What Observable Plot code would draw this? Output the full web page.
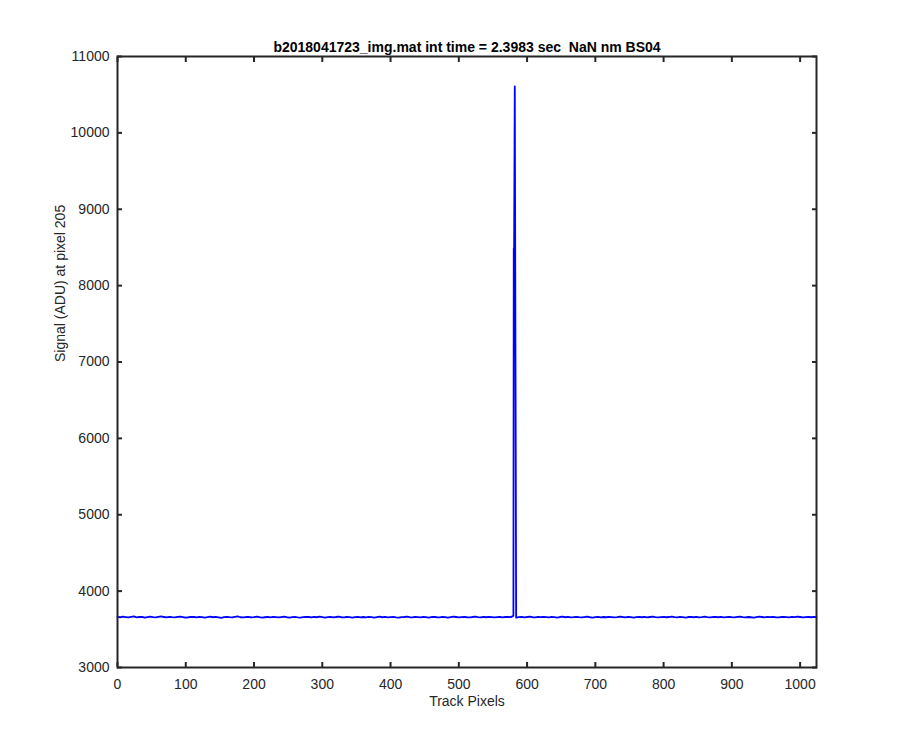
<!DOCTYPE html>
<html><head><meta charset="utf-8">
<script src="https://cdn.jsdelivr.net/npm/d3@7"></script>
<script src="https://cdn.jsdelivr.net/npm/@observablehq/plot@0.6"></script>
<style>body{margin:0;background:#fff}</style>
</head><body><div id="chart"></div>
<script>
const titleText = "b2018041723_img.mat int time = 2.3983 sec  NaN nm BS04";
const xLabel = "Track Pixels";
const yLabel = "Signal (ADU) at pixel 205";
const xTicks = [0,100,200,300,400,500,600,700,800,900,1000];
const yTicks = [3000,4000,5000,6000,7000,8000,9000,10000,11000];
// baseline signal sampled every 4 track pixels (0..1024)
const baseStep = 4;
const baseline = [
3662,3658,3665,3660,3655,3663,3668,3657,3661,3664,3652,3659,3666,3660,3656,3663,
3669,3661,3657,3664,3659,3655,3662,3667,3660,3653,3658,3664,3661,3656,3663,3659,
3654,3660,3665,3658,3662,3657,3651,3660,3664,3659,3656,3663,3668,3658,3655,3661,
3664,3657,3660,3666,3659,3653,3658,3662,3657,3664,3660,3655,3661,3667,3658,3654,
3660,3663,3657,3652,3659,3664,3661,3656,3662,3658,3665,3660,3654,3659,3663,3657,
3661,3666,3658,3655,3662,3659,3653,3660,3664,3657,3661,3656,3663,3659,3654,3660,
3665,3658,3662,3656,3660,3663,3657,3652,3659,3661,3666,3658,3655,3662,3660,3657,
3663,3659,3654,3661,3664,3658,3656,3662,3660,3653,3659,3665,3661,3657,3660,3663,
3658,3655,3661,3666,3659,3656,3662,3658,3664,3660,3655,3659,3663,3657,3661,3664,
3660,3676,3652,3659,3663,3657,3661,3666,3658,3655,3662,3659,3664,3660,3656,3663,
3659,3654,3661,3665,3658,3662,3657,3660,3664,3659,3655,3661,3667,3658,3654,3660,
3663,3657,3661,3658,3664,3660,3655,3659,3666,3661,3657,3662,3659,3653,3660,3664,
3658,3662,3656,3661,3665,3659,3655,3660,3663,3658,3661,3667,3660,3656,3662,3659,
3654,3661,3664,3658,3662,3657,3660,3665,3659,3655,3661,3663,3658,3662,3656,3660,
3664,3659,3655,3662,3666,3660,3657,3661,3658,3654,3660,3665,3661,3657,3662,3659,
3663,3658,3655,3661,3664,3660,3656,3662,3659,3665,3661,3657,3660,3663,3658,3662,
3660];
const spikePixels = [580.5, 581, 582];
const spikeValues = [8486, 8486, 10607];

const data = baseline.map((v,i)=>({px:i*baseStep, s:v}))
  .concat(spikePixels.map((p,i)=>({px:p, s:spikeValues[i]})))
  .sort((a,b)=>a.px-b.px);

const axisColor = "#262626";
const font = "'Liberation Sans', Arial, Helvetica, sans-serif";
const chart = Plot.plot({
  width: 900, height: 750,
  marginLeft: 117, marginRight: 84, marginTop: 56, marginBottom: 83,
  style: {fontFamily: font, fontSize: "14px", color: axisColor, background: "#fff"},
  x: {domain: [0, 1024], ticks: xTicks},
  y: {domain: [3000, 11000], ticks: yTicks},
  marks: [
    Plot.line(data, {x: "px", y: "s", stroke: "#0000ff", strokeWidth: 1.8}),
    Plot.frame({stroke: axisColor, strokeWidth: 2}),
    Plot.axisX(xTicks, {anchor: "bottom", tickSize: 5, dy: -5, tickFormat: () => "", label: null, stroke: axisColor, strokeWidth: 2}),
    Plot.axisX(xTicks, {anchor: "top", tickSize: 5, dy: 5, tickFormat: () => "", label: null, stroke: axisColor, strokeWidth: 2}),
    Plot.axisY(yTicks, {anchor: "left", tickSize: 5, dx: 5, tickFormat: () => "", label: null, stroke: axisColor, strokeWidth: 2}),
    Plot.axisY(yTicks, {anchor: "right", tickSize: 5, dx: -5, tickFormat: () => "", label: null, stroke: axisColor, strokeWidth: 2}),
    Plot.axisX(xTicks, {anchor: "bottom", tickSize: 0, tickPadding: 12, label: null, fontSize: 14, fill: axisColor, tickFormat: d => String(d)}),
    Plot.axisY(yTicks, {anchor: "left", tickSize: 0, tickPadding: 8, label: null, fontSize: 14, fill: axisColor, tickFormat: d => String(d)}),
    Plot.text([xLabel], {text: d => d, frameAnchor: "bottom", dy: 38, fontSize: 14, fill: axisColor}),
    Plot.text([yLabel], {text: d => d, frameAnchor: "left", rotate: -90, dx: -57, fontSize: 14, fill: axisColor}),
    Plot.text([titleText], {text: d => d, frameAnchor: "top", dy: -14, fontSize: 14, fontWeight: "bold", fill: "#000"})
  ]
});
document.getElementById("chart").appendChild(chart);
</script>
</body></html>
